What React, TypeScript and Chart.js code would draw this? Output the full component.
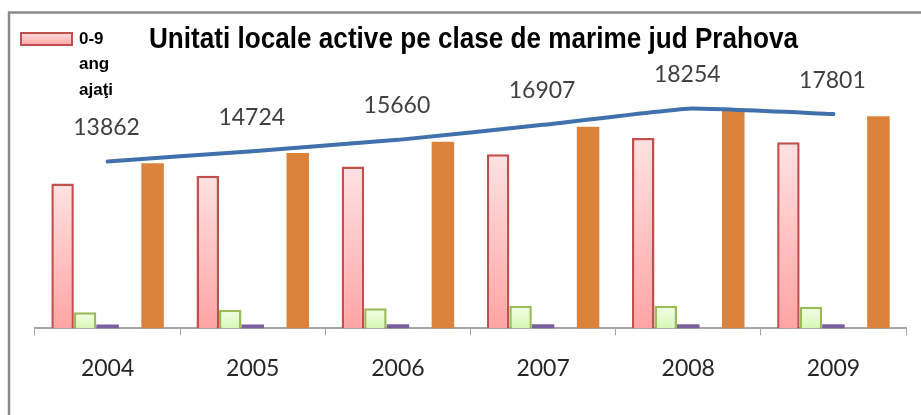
import React, { useEffect, useRef } from "react";
import { Chart, registerables } from "chart.js";

Chart.register(...registerables);

// ---- data ----
const years = ["2004", "2005", "2006", "2007", "2008", "2009"];
const units0to9 = [12150, 12800, 13580, 14620, 15970, 15610];
const units10to49 = [1350, 1570, 1690, 1910, 1900, 1820];
const units50to249 = [330, 320, 350, 340, 350, 340];
const units250plus = [0, 0, 0, 0, 0, 0];
const totalUnits = [13862, 14724, 15660, 16907, 18254, 17801];
const titleText = "Unitati locale active pe clase de marime jud Prahova";
const legendLines = ["0-9", "ang", "ajaţi"];

const Y_MAX = 25000;

function gradientFill(top: string, bottom: string, fallback: string) {
  return (c: any) => {
    const chart = c.chart;
    if (!chart.chartArea || c.type !== "data") return fallback;
    const y = chart.scales.y;
    const yTop = y.getPixelForValue(c.raw);
    const yBot = y.getPixelForValue(0);
    if (!isFinite(yTop) || !isFinite(yBot) || yBot - yTop < 1) return fallback;
    const g = chart.ctx.createLinearGradient(0, yTop, 0, yBot);
    g.addColorStop(0, top);
    g.addColorStop(1, bottom);
    return g;
  };
}

const framePlugin = {
  id: "frame",
  beforeDraw(chart: any) {
    const ctx = chart.ctx;
    ctx.save();
    ctx.fillStyle = "#ffffff";
    ctx.fillRect(0, 0, chart.width, chart.height);
    ctx.strokeStyle = "#8a8a8a";
    ctx.lineWidth = 2.5;
    ctx.strokeRect(9, 12.5, 2000, 2000);
    ctx.restore();
  },
};

const decorPlugin = {
  id: "decor",
  afterDraw(chart: any) {
    const ctx = chart.ctx;
    ctx.save();
    // title
    ctx.font = 'bold 29px "Liberation Sans", Arial, sans-serif';
    ctx.fillStyle = "#000000";
    ctx.textBaseline = "alphabetic";
    ctx.textAlign = "left";
    const w = ctx.measureText(titleText).width;
    const target = 649;
    ctx.translate(149, 47.5);
    ctx.scale(target / w, 1);
    ctx.fillText(titleText, 0, 0);
    ctx.restore();

    // legend
    ctx.save();
    const lx = 21, ly = 33, lw = 51, lh = 12;
    const g = ctx.createLinearGradient(0, ly, 0, ly + lh);
    g.addColorStop(0, "#ffdede");
    g.addColorStop(1, "#ffa6a6");
    ctx.fillStyle = g;
    ctx.fillRect(lx, ly, lw, lh);
    ctx.strokeStyle = "#c0504d";
    ctx.lineWidth = 2;
    ctx.strokeRect(lx, ly, lw, lh);
    ctx.fillStyle = "#000000";
    ctx.font = 'bold 17px "Liberation Sans", Arial, sans-serif';
    ctx.textBaseline = "middle";
    ctx.textAlign = "left";
    legendLines.forEach((t, i) => {
      ctx.fillText(t, 79, 39 + i * 25.5);
    });
    ctx.restore();

    // line data labels
    ctx.save();
    const idx = chart.data.datasets.findIndex((d: any) => d.type === "line");
    const meta = chart.getDatasetMeta(idx);
    ctx.font = '23px Lato, "Open Sans", sans-serif';
    ctx.fillStyle = "#404040";
    ctx.textAlign = "center";
    ctx.textBaseline = "middle";
    meta.data.forEach((pt: any, i: number) => {
      ctx.fillText(String(chart.data.datasets[idx].data[i]), pt.x - 1, pt.y - 34);
    });
    ctx.restore();
  },
};

export default function App() {
  const ref = useRef<HTMLCanvasElement | null>(null);

  useEffect(() => {
    if (!ref.current) return;
    const chart = new Chart(ref.current, {
      type: "bar",
      data: {
        labels: years,
        datasets: [
          {
            type: "line",
            label: "Total",
            data: totalUnits,
            yAxisID: "y2",
            borderColor: "#4071ac",
            borderWidth: 4,
            pointRadius: 0,
            tension: 0.12,
            borderCapStyle: "round",
            borderJoinStyle: "round",
            fill: false,
            order: 0,
          } as any,
          {
            label: "0-9 angajaţi",
            data: units0to9,
            backgroundColor: gradientFill("#ffe2e2", "#ffa4a4", "#ffc0c0"),
            borderColor: "#c0504d",
            borderWidth: 2.5,
            order: 1,
          },
          {
            label: "10-49 angajaţi",
            data: units10to49,
            backgroundColor: gradientFill("#f4ffe8", "#d8f7b6", "#e4fcc8"),
            borderColor: "#9bbb59",
            borderWidth: 2.5,
            order: 1,
          },
          {
            label: "50-249 angajaţi",
            data: units50to249,
            backgroundColor: "#7b5f9e",
            borderWidth: 0,
            order: 1,
          },
          {
            label: "250+ angajaţi",
            data: units250plus,
            backgroundColor: "#4bacc6",
            borderWidth: 0,
            order: 1,
          },
          {
            label: "Total",
            data: totalUnits,
            backgroundColor: "#db833b",
            borderWidth: 0,
            order: 1,
          },
        ],
      },
      options: {
        responsive: false,
        animation: false,
        devicePixelRatio: 1,
        layout: { padding: { top: 30.4, left: 35, right: 15, bottom: 14 } },
        datasets: {
          bar: { barPercentage: 1, categoryPercentage: 0.775 },
        },
        plugins: {
          legend: { display: false },
          title: { display: false },
          tooltip: { enabled: false },
        },
        scales: {
          x: {
            grid: {
              display: true,
              drawOnChartArea: false,
              drawTicks: true,
              tickLength: 7,
              color: "#a6a6a6",
              offset: true,
            },
            border: { display: true, color: "#a6a6a6", width: 2 },
            ticks: {
              font: { family: 'Lato, "Open Sans", sans-serif', size: 23 },
              color: "#262626",
              padding: 19,
              maxRotation: 0,
              autoSkip: false,
            },
          },
          y: { display: false, min: 0, max: Y_MAX },
          y2: { display: false, min: 0, max: Y_MAX / 1.01, position: "right" },
        },
      },
      plugins: [framePlugin, decorPlugin],
    });
    return () => chart.destroy();
  }, []);

  return (
    <div style={{ position: "fixed", left: 0, top: 0, width: 921, height: 415 }}>
      <canvas ref={ref} width={921} height={415} style={{ width: 921, height: 415 }} />
    </div>
  );
}
